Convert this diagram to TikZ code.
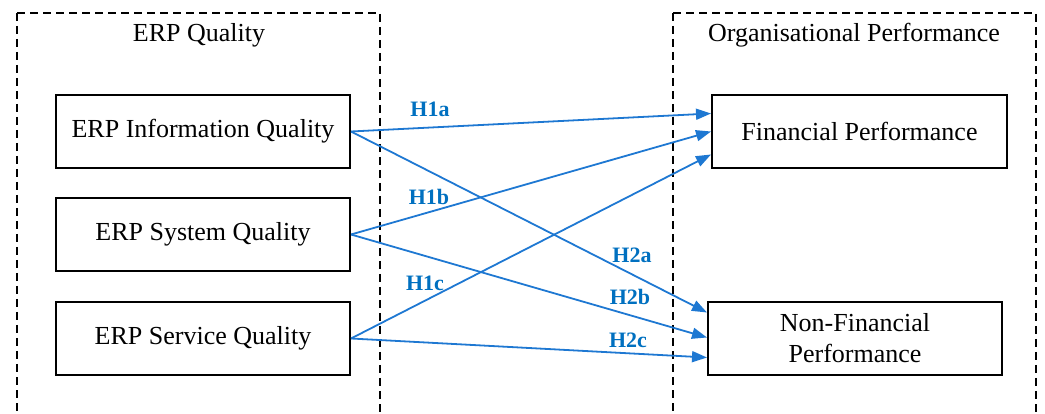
\documentclass[tikz,border=0pt]{standalone}
\usepackage{fontspec}
\setmainfont{Liberation Serif}
\usetikzlibrary{arrows.meta}
\definecolor{arrowblue}{RGB}{30,120,210}
\definecolor{labelblue}{RGB}{0,112,192}
\tikzset{
  group/.style={draw=black, line width=1.8pt, dash pattern=on 8pt off 5pt},
  varbox/.style={draw=black, line width=2pt, minimum width=294pt, minimum height=73pt, inner sep=0pt, align=center, font=\fontsize{26}{31}\selectfont},
  grouptitle/.style={font=\fontsize{26}{31}\selectfont},
  hyp/.style={draw=arrowblue, line width=1.8pt, -{Triangle[length=15pt,width=11pt]}},
  hyplabel/.style={text=labelblue, font=\fontsize{22}{26}\selectfont\bfseries},
}
\begin{document}
\begin{tikzpicture}[x=1pt,y=-1pt]
\useasboundingbox (0,0) rectangle (1045,414);
\clip (0,0) rectangle (1045,414);
\draw[group] (17,13) -- (380,13) -- (380,430) (17,13) -- (17,430);
\draw[group] (673,13) -- (1036,13) -- (1036,430) (673,13) -- (673,430);
\node[grouptitle] (t1) at (199,35) {ERP Quality};
\node[grouptitle] (t2) at (854,35) {Organisational Performance};
\node[varbox] (info) at (203,131.5) {ERP Information Quality};
\node[varbox] (sys) at (203,234.5) {ERP System Quality};
\node[varbox] (serv) at (203,338.5) {ERP Service Quality};
\node[varbox, minimum width=295pt] (fin) at (859.5,131.5) {Financial Performance};
\node[varbox] (nfin) at (855,338.5) {Non-Financial\\Performance};
\draw[hyp] (info.east) -- ([yshift=18pt]fin.west);
\draw[hyp] (sys.east) -- ([yshift=0pt]fin.west);
\draw[hyp] (serv.east) -- ([yshift=-23pt]fin.west);
\draw[hyp] (info.east) -- ([yshift=26pt]nfin.west);
\draw[hyp] (sys.east) -- ([yshift=1pt]nfin.west);
\draw[hyp] (serv.east) -- ([yshift=-19pt]nfin.west);
\node[hyplabel] (l1a) at (430,109) {H1a};
\node[hyplabel] (l1b) at (429,197) {H1b};
\node[hyplabel] (l1c) at (425,283) {H1c};
\node[hyplabel] (l2a) at (632,255) {H2a};
\node[hyplabel] (l2b) at (630,297) {H2b};
\node[hyplabel] (l2c) at (628,340) {H2c};
\end{tikzpicture}
\end{document}
